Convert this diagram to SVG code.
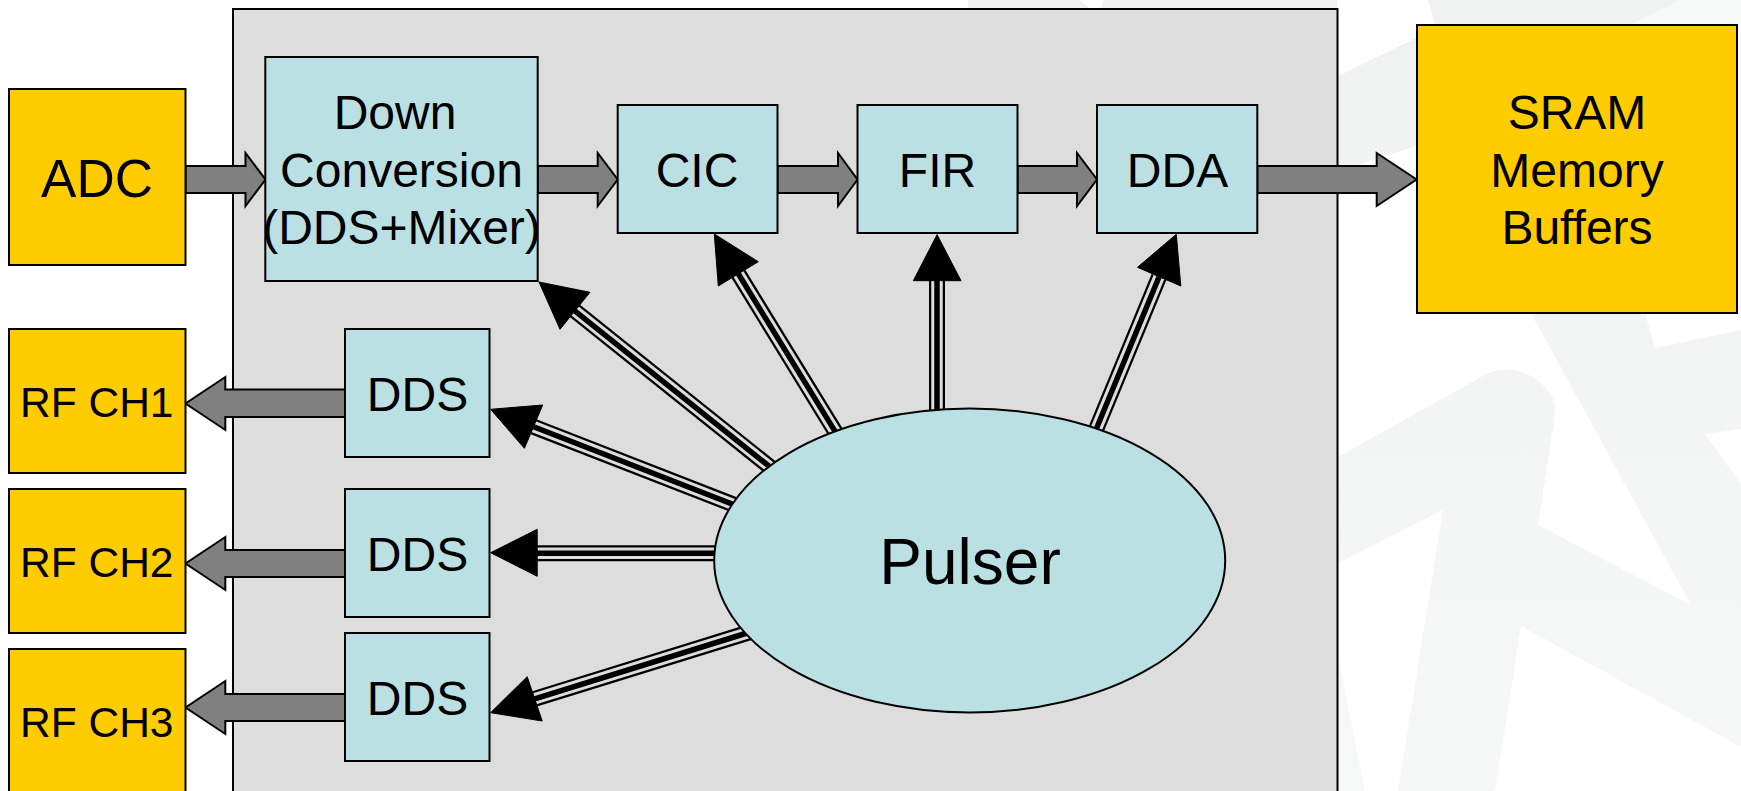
<svg xmlns="http://www.w3.org/2000/svg" width="1741" height="791" viewBox="0 0 1741 791">
<defs>
<linearGradient id="wmg" gradientUnits="userSpaceOnUse" x1="0" y1="0" x2="0" y2="791">
<stop offset="0" stop-color="#f0f1f1"/><stop offset="1" stop-color="#f6f7f7"/>
</linearGradient>
</defs>
<style>
.wm{fill:url(#wmg);stroke:none}
.wm2{fill:#f7f8f8;stroke:none}
.frame{fill:#dddddd;stroke:#000;stroke-width:2}
.y{fill:#ffcc00;stroke:#000;stroke-width:2}
.b{fill:#bbe0e3;stroke:#000;stroke-width:2}
.block{fill:#808080;stroke:#000;stroke-width:2;stroke-linejoin:miter}
.t1{fill:none;stroke:#000;stroke-width:16}
.t2{fill:none;stroke:#dddddd;stroke-width:11.500}
.t3{fill:none;stroke:#000;stroke-width:5.500}
.head{fill:#000;stroke:#000;stroke-width:1}
text{font-family:"Liberation Sans",Arial,sans-serif;fill:#000;text-anchor:middle}
.f48{font-size:48px}
.f53{font-size:53px}
.f42{font-size:42.500px;text-anchor:start}
.f64{font-size:64px}
</style>
<rect width="1741" height="791" fill="#ffffff"/>
<g id="watermark">
<path class="wm" d="M1338,457 L1488,373 Q1518,362 1543,385 Q1558,400 1555,414 L1538,525 L1691,605 L1531,313 L1645,313 L1655,348 L1741,330 V429 L1705,434 L1741,484 V747 L1521,626 L1495,791 H1398 L1443,510 L1338,563 Z"/>
<path class="wm2" d="M1338,656 L1365,791 H1338 Z"/>
<path class="wm" d="M1428,0 H1681 L1631,24 H1435 Z"/>
<path class="wm2" d="M1681,0 H1741 V24 H1631 Z"/>
<path class="wm" d="M1338,76 L1416,38 V146 L1338,171 Z"/>
<path class="wm" d="M968,0 H1080 L1090,9 H968 Z M1104,0 H1337 V9 H1100 Z"/>
</g>
<rect id="container" class="frame" x="233" y="9" width="1104.500" height="800"/>
<g id="connectors">
<polygon class="block" points="185.500,166 245.500,166 245.500,153 265.500,179.500 245.500,206 245.500,193 185.500,193"/>
<polygon class="block" points="537.700,166 597.700,166 597.700,153 617.700,179.500 597.700,206 597.700,193 537.700,193"/>
<polygon class="block" points="777.500,166 838,166 838,153 857.500,179.500 838,206 838,193 777.500,193"/>
<polygon class="block" points="1017.600,166 1077,166 1077,153 1097,179.500 1077,206 1077,193 1017.600,193"/>
<polygon class="block" points="1257.300,166 1376.700,166 1376.700,153 1416.600,179.500 1376.700,206 1376.700,193 1257.300,193"/>
<polygon class="block" points="345,389.500 225.300,389.500 225.300,377 185.500,403.500 225.300,430 225.300,417 345,417"/>
<polygon class="block" points="345,550 225.300,550 225.300,537 185.500,563.500 225.300,590 225.300,577 345,577"/>
<polygon class="block" points="345,694 225.300,694 225.300,681 185.500,707.500 225.300,734 225.300,721 345,721"/>

<path class="t1" d="M572,308.600 L780,475"/><path class="t2" d="M572,308.600 L780,475"/><path class="t3" d="M572,308.600 L780,475"/>
<polygon class="head" points="539,282 590,292.300 560,329.300"/>
<path class="t1" d="M738.300,273.800 L840,439.400"/><path class="t2" d="M738.300,273.800 L840,439.400"/><path class="t3" d="M738.300,273.800 L840,439.400"/>
<polygon class="head" points="714.300,234 758.300,261.700 718.300,286"/>
<path class="t1" d="M937,279 V420"/><path class="t2" d="M937,279 V420"/><path class="t3" d="M937,279 V420"/>
<polygon class="head" points="937.100,234.700 961,280.700 913.300,280.700"/>
<path class="t1" d="M1159,277 L1095,432"/><path class="t2" d="M1159,277 L1095,432"/><path class="t3" d="M1159,277 L1095,432"/>
<polygon class="head" points="1176.300,234.300 1180.800,286 1137.500,267.300"/>
<path class="t1" d="M533.600,426.700 L745,509"/><path class="t2" d="M533.600,426.700 L745,509"/><path class="t3" d="M533.600,426.700 L745,509"/>
<polygon class="head" points="490.600,409.300 542.700,405 524.400,448.300"/>
<path class="t1" d="M535,553.300 H725"/><path class="t2" d="M535,553.300 H725"/><path class="t3" d="M535,553.300 H725"/>
<polygon class="head" points="490.600,552.700 537.200,529.300 537.200,576.300"/>
<path class="t1" d="M534.700,698.800 L760,629"/><path class="t2" d="M534.700,698.800 L760,629"/><path class="t3" d="M534.700,698.800 L760,629"/>
<polygon class="head" points="490.600,712.700 527.200,676.700 542.200,721"/>
</g>
<g id="adc"><rect class="y" x="9" y="89" width="176.500" height="176"/><text class="f53" x="97" y="196.700">ADC</text></g>
<g id="rf1"><rect class="y" x="9" y="329" width="176.500" height="144"/><text class="f42" x="20" y="416.500">RF CH1</text></g>
<g id="rf2"><rect class="y" x="9" y="489" width="176.500" height="144"/><text class="f42" x="20" y="576.500">RF CH2</text></g>
<g id="rf3"><rect class="y" x="9" y="649" width="176.500" height="160"/><text class="f42" x="20" y="737">RF CH3</text></g>
<g id="down"><rect class="b" x="265.300" y="57" width="272.400" height="224"/>
<text class="f48" x="395" y="129">Down</text><text class="f48" x="401.500" y="187.400">Conversion</text><text class="f48" x="401.500" y="244">(DDS+Mixer)</text></g>
<g id="cic"><rect class="b" x="617.700" y="105" width="159.800" height="128"/><text class="f48" x="697" y="187.400">CIC</text></g>
<g id="fir"><rect class="b" x="857.500" y="105" width="160" height="128"/><text class="f48" x="937.500" y="187.400">FIR</text></g>
<g id="dda"><rect class="b" x="1097" y="105" width="160.300" height="128"/><text class="f48" x="1177.500" y="187.400">DDA</text></g>
<g id="sram"><rect class="y" x="1417" y="25" width="320" height="288"/>
<text class="f48" x="1577" y="129">SRAM</text><text class="f48" x="1577" y="187.400">Memory</text><text class="f48" x="1577" y="244">Buffers</text></g>
<g id="dds1"><rect class="b" x="345" y="329" width="144.500" height="128"/><text class="f48" x="417.500" y="410.700">DDS</text></g>
<g id="dds2"><rect class="b" x="345" y="489" width="144.500" height="128"/><text class="f48" x="417.500" y="571.200">DDS</text></g>
<g id="dds3"><rect class="b" x="345" y="633" width="144.500" height="128"/><text class="f48" x="417.500" y="715">DDS</text></g>
<g id="pulser"><ellipse class="b" cx="969.700" cy="560.500" rx="255.500" ry="152"/><text class="f64" x="970" y="584.400">Pulser</text></g>
</svg>
